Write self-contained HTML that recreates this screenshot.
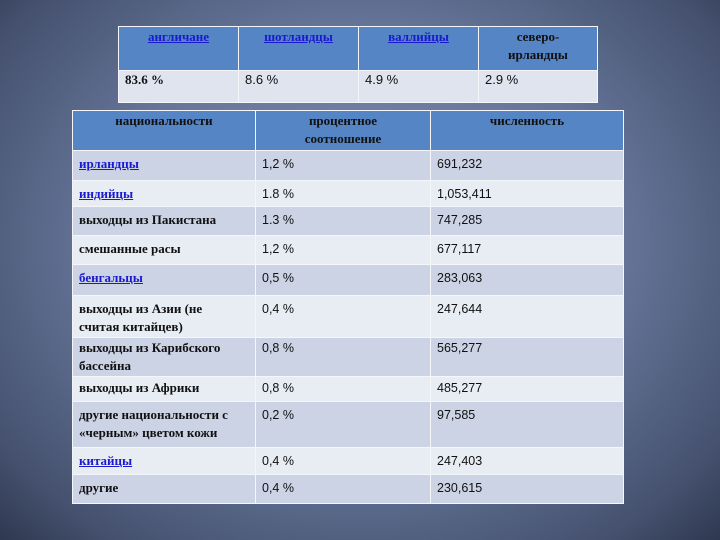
<!DOCTYPE html>
<html><head><meta charset="utf-8"><style>
body{margin:0;width:720px;height:540px;overflow:hidden;}
#slide{position:relative;width:720px;height:540px;background:radial-gradient(ellipse at 50% 45%,#7b8bab 0%,#66769a 50%,#45516e 85%,#2f3850 100%);font-family:"Liberation Serif","Noto Serif CJK SC",serif;color:#111;}
table{position:absolute;border-collapse:collapse;font-size:13px;table-layout:fixed;}
td,th{border:1.5px solid #f4f6fa;vertical-align:top;padding:1px 6px;text-align:left;overflow:hidden;box-sizing:border-box;}
th{background:#5585c4;font-weight:bold;text-align:center;color:#111;line-height:18px;}
a{color:#1a1ad0;text-decoration:underline;}
#top th{height:44px;}
#top td{background:#dfe4ee;height:32px;font-family:"Liberation Sans",sans-serif;}
#bot th{height:40px;}
#bot td{line-height:18px;padding-top:4px;}
#bot tr.d td{background:#ccd3e5;}
#bot tr.l td{background:#e8ecf3;}
#bot td.n{font-weight:bold;padding-right:16px;}
#bot td.v{font-family:"Liberation Sans",sans-serif;font-size:12.5px;padding-left:6px;}
</style></head><body>
<div id="slide">
<table id="top" style="left:118px;top:26px;width:480px;">
<tr>
<th style="width:120px"><a href="#">англичане</a></th>
<th style="width:120px"><a href="#">шотландцы</a></th>
<th style="width:120px"><a href="#">валлийцы</a></th>
<th>северо-<br>ирландцы</th>
</tr>
<tr>
<td style="font-weight:bold;font-family:'Liberation Serif',serif">83.6 %</td>
<td>8.6 %</td>
<td>4.9 %</td>
<td>2.9 %</td>
</tr>
</table>
<table id="bot" style="left:72px;top:110px;width:552px;">
<tr>
<th style="width:183px">национальности</th>
<th style="width:175px">процентное<br>соотношение</th>
<th>численность</th>
</tr>
<tr class="d" style="height:30px"><td class="n"><a href="#">ирландцы</a></td><td class="v">1,2 %</td><td class="v">691,232</td></tr>
<tr class="l" style="height:26px"><td class="n"><a href="#">индийцы</a></td><td class="v">1.8 %</td><td class="v">1,053,411</td></tr>
<tr class="d" style="height:29px"><td class="n">выходцы из Пакистана</td><td class="v">1.3 %</td><td class="v">747,285</td></tr>
<tr class="l" style="height:29px"><td class="n">смешанные расы</td><td class="v">1,2 %</td><td class="v">677,117</td></tr>
<tr class="d" style="height:31px"><td class="n"><a href="#">бенгальцы</a></td><td class="v">0,5 %</td><td class="v">283,063</td></tr>
<tr class="l" style="height:41px"><td class="n">выходцы из Азии (не<br>считая китайцев)</td><td class="v">0,4 %</td><td class="v">247,644</td></tr>
<tr class="d" style="height:37px"><td class="n" style="padding-top:1px">выходцы из Карибского бассейна</td><td class="v" style="padding-top:1px">0,8 %</td><td class="v" style="padding-top:1px">565,277</td></tr>
<tr class="l" style="height:25px"><td class="n" style="padding-top:2px">выходцы из Африки</td><td class="v" style="padding-top:2px">0,8 %</td><td class="v" style="padding-top:2px">485,277</td></tr>
<tr class="d" style="height:46px"><td class="n">другие национальности с «черным» цветом кожи</td><td class="v">0,2 %</td><td class="v">97,585</td></tr>
<tr class="l" style="height:27px"><td class="n"><a href="#">китайцы</a></td><td class="v">0,4 %</td><td class="v">247,403</td></tr>
<tr class="d" style="height:29px"><td class="n">другие</td><td class="v">0,4 %</td><td class="v">230,615</td></tr>
</table>
</div>
</body></html>
